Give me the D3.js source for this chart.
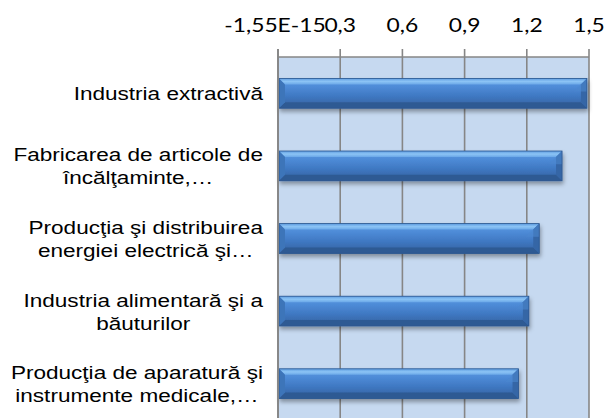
<!DOCTYPE html>
<html><head><meta charset="utf-8">
<script src="https://cdn.jsdelivr.net/npm/d3@7"></script>
<style>html,body{margin:0;padding:0;background:#fff;overflow:hidden}</style>
</head><body><svg id="c" width="606" height="418"></svg>
<script>
const categories = [
  ["Industria extractivă"],
  ["Fabricarea de articole de", "încălţaminte,…"],
  ["Producţia şi distribuirea", "energiei electrică şi…"],
  ["Industria alimentară şi a", "băuturilor"],
  ["Producţia de aparatură şi", "instrumente medicale,…"]
];
const values = [1.49, 1.37, 1.26, 1.21, 1.16];
const tickValues = [0, 0.3, 0.6, 0.9, 1.2, 1.5];
const tickLabels = ["-1,55E-15", "0,3", "0,6", "0,9", "1,2", "1,5"];

(function () {
const svg = d3.select("#c");
const pLeft = 278, pRight = 589, pTop = 57, pBottom = 420;
const x = d3.scaleLinear().domain([0, 1.5]).range([pLeft, pRight]);
const keys = categories.map((d, i) => "c" + i);
const y = d3.scaleBand().domain(keys).range([pTop, pBottom]).paddingInner(0.59).paddingOuter(0.295);

const defs = svg.append("defs");
const g1 = defs.append("linearGradient").attr("id", "face").attr("x1", 0).attr("y1", 0).attr("x2", 0).attr("y2", 1);
[[0, "#5d9be3"], [0.3, "#4d8ad6"], [0.6, "#3f78c2"], [1, "#335f9c"]].forEach(s => g1.append("stop").attr("offset", s[0]).attr("stop-color", s[1]));
const gt = defs.append("linearGradient").attr("id", "topb").attr("x1", 0).attr("y1", 0).attr("x2", 0).attr("y2", 1);
[[0, "#5e9ce0"], [0.5, "#8cc4f5"], [1, "#6aa8e8"]].forEach(s => gt.append("stop").attr("offset", s[0]).attr("stop-color", s[1]));
const f = defs.append("filter").attr("id", "sh").attr("x", "-5%").attr("y", "-20%").attr("width", "110%").attr("height", "160%");
f.append("feDropShadow").attr("dx", 1).attr("dy", 3).attr("stdDeviation", 2).attr("flood-color", "#000").attr("flood-opacity", 0.35);

svg.append("rect").attr("x", x(0)).attr("y", pTop).attr("width", x(1.5) - x(0)).attr("height", 418 - pTop + 5).attr("fill", "#c6d9f0");

const gridCol = "#868686";
svg.append("g").selectAll("line").data(tickValues).join("line")
  .attr("x1", d => x(d)).attr("x2", d => x(d)).attr("y1", pTop - 8).attr("y2", 430)
  .attr("stroke", gridCol).attr("stroke-width", 1.6);
svg.append("line").attr("x1", x(0)).attr("x2", x(1.5)).attr("y1", pTop).attr("y2", pTop).attr("stroke", gridCol).attr("stroke-width", 1.6);

svg.append("g").selectAll("text").data(tickValues).join("text")
  .attr("transform", d => `translate(${x(d) + (d === 0 ? -3 : 0)},32) scale(1.17,1)`)
  .attr("text-anchor", "middle").attr("font-family", "Lato, 'Open Sans', sans-serif").attr("font-size", 19.5).attr("fill", "#000")
  .text((d, i) => tickLabels[i]);

const bars = svg.append("g").selectAll("g").data(values).join("g").attr("filter", "url(#sh)");
bars.each(function (v, i) {
  const g = d3.select(this);
  const x0 = x(0) + 1, x1 = x(v), y0 = y(keys[i]), h = y.bandwidth(), y1 = y0 + h, b = 6;
  g.append("rect").attr("x", x0).attr("y", y0).attr("width", x1 - x0).attr("height", h).attr("fill", "url(#face)");
  g.append("path").attr("d", `M${x0},${y0}L${x1},${y0}L${x1 - b},${y0 + b}L${x0 + b},${y0 + b}Z`).attr("fill", "url(#topb)");
  g.append("path").attr("d", `M${x0},${y1}L${x1},${y1}L${x1 - b},${y1 - b}L${x0 + b},${y1 - b}Z`).attr("fill", "#2f5a93");
  g.append("path").attr("d", `M${x1},${y0}L${x1},${y1}L${x1 - b},${y1 - b}L${x1 - b},${y0 + b}Z`).attr("fill", "#3566a6");
  g.append("path").attr("d", `M${x1},${y0}L${x1 - b * 2.2},${y0 + b * 2.2}L${x1},${y0 + b * 2.2}Z`).attr("fill", "#4d87cf").attr("opacity", 0.6);
  g.append("path").attr("d", `M${x0},${y0}L${x0},${y1}L${x0 + b},${y1 - b}L${x0 + b},${y0 + b}Z`).attr("fill", "#3d74b9");
  g.append("rect").attr("x", x0).attr("y", y0).attr("width", x1 - x0).attr("height", h).attr("fill", "none").attr("stroke", "#2d578f").attr("stroke-width", 0.8);
});

svg.append("line").attr("x1", x(0)).attr("x2", x(0)).attr("y1", pTop - 8).attr("y2", 430).attr("stroke", gridCol).attr("stroke-width", 1.8);

const sx = 1.22, labRight = 263;
const lab = svg.append("g").selectAll("g").data(categories).join("g");
lab.each(function (lines, i) {
  const n = lines.length, lh = 23;
  const cy = y(keys[i]) + y.bandwidth() / 2;
  const g = d3.select(this);
  const texts = g.selectAll("text").data(lines).join("text")
    .attr("y", (d, j) => (j - (n - 1) / 2) * lh + 7)
    .attr("text-anchor", "middle").attr("font-family", "'Liberation Sans', Arial, sans-serif").attr("font-size", 18.5).attr("fill", "#000")
    .text(d => d);
  let maxW = 0;
  texts.each(function () { maxW = Math.max(maxW, this.getComputedTextLength()); });
  texts.attr("x", -maxW / 2);
  g.attr("transform", `translate(${labRight},${cy}) scale(${sx},1)`);
});
})();
</script></body></html>
